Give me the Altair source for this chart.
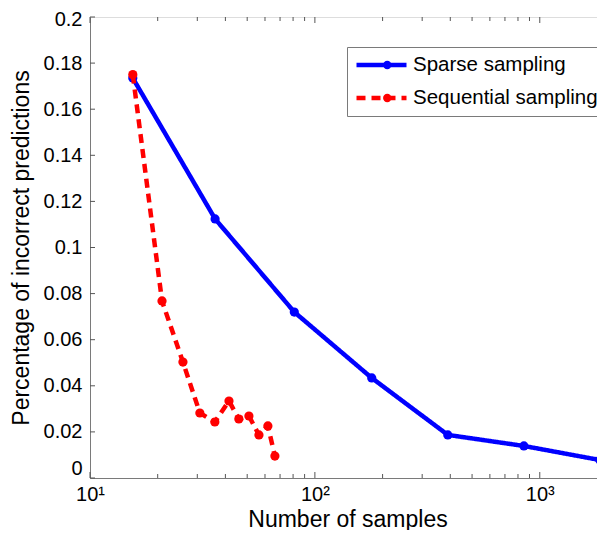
import altair as alt
import pandas as pd

# ---- data ----
sparse_x = [15.5, 36, 81, 179, 390, 850, 1850]
sparse_y = [0.1735, 0.1124, 0.072, 0.0434, 0.0187, 0.0139, 0.0078]
seq_x = [15.5, 20.9, 25.9, 30.8, 35.9, 41.5, 45.9, 50.9, 56.4, 61.8, 66.4]
seq_y = [0.175, 0.0768, 0.0503, 0.0282, 0.0243, 0.0334, 0.0256, 0.0269, 0.0187, 0.0226, 0.0095]
series_names = ["Sparse sampling", "Sequential sampling"]
series_colors = ["#0000ff", "#ff0000"]

x_major = [10, 100, 1000]
x_minor = [20, 30, 40, 50, 60, 70, 80, 90,
           200, 300, 400, 500, 600, 700, 800, 900]
y_ticks = [0, 0.02, 0.04, 0.06, 0.08, 0.1, 0.12, 0.14, 0.16, 0.18, 0.2]
x_domain = [10, 1950]
y_domain = [0, 0.2]

df = pd.concat([
    pd.DataFrame({"n": sparse_x, "err": sparse_y, "series": series_names[0]}),
    pd.DataFrame({"n": seq_x, "err": seq_y, "series": series_names[1]}),
])
# separate key for the dot overlay so its legend stays a distinct one
dot_names = [s + " (dot)" for s in series_names]
df["dot"] = df["series"] + " (dot)"
xmaj = pd.DataFrame({"t": x_major})
xmin = pd.DataFrame({"t": x_minor})
yt = pd.DataFrame({"t": y_ticks})

FONT = "Liberation Sans"
AX = "#7a7a7a"
W, H = 515, 461
LX, LY = 257, 30

xscale = alt.Scale(type="log", domain=x_domain, nice=False)
yscale = alt.Scale(domain=y_domain, nice=False, zero=False)

color = alt.Color(
    "series:N",
    scale=alt.Scale(domain=series_names, range=series_colors),
    legend=alt.Legend(
        title=None, orient="none", legendX=LX, legendY=LY,
        symbolType="stroke", symbolSize=2500, symbolStrokeWidth=4.5,
        clipHeight=22,
        labelFont=FONT, labelFontSize=20.5, labelColor="black", labelLimit=400,
        labelOffset=4, rowPadding=11, padding=7,
        strokeColor=AX, fillColor="white",
    ),
)
dash = alt.StrokeDash(
    "series:N",
    scale=alt.Scale(domain=series_names, range=[[1, 0], [9, 6]]),
    legend=None,
)

base = alt.Chart(df)
lines = base.mark_line(strokeWidth=4.5).encode(
    x=alt.X("n:Q", scale=xscale, axis=alt.Axis(
        title="Number of samples", values=x_major,
        labelExpr="datum.value == 10 ? '10¹' : datum.value == 100 ? '10²' : '10³'",
        labelFlush=False,
        ticks=False, labelPadding=6, labelFont=FONT, labelFontSize=20, labelColor="black",
        titleFont=FONT, titleFontSize=23, titleFontWeight="normal", titleColor="black",
        titlePadding=4, domainColor=AX, grid=False)),
    y=alt.Y("err:Q", scale=yscale, axis=alt.Axis(
        title="Percentage of incorrect predictions", values=y_ticks, format="~g",
        labelFlush=False,
        labelOffset={"condition": [
            {"test": "datum.value == 0", "value": -10},
            {"test": "datum.value >= 0.199", "value": 2},
        ], "value": 0},
        ticks=False, labelPadding=8, labelFont=FONT, labelFontSize=20, labelColor="black",
        titleFont=FONT, titleFontSize=23, titleFontWeight="normal", titleColor="black",
        titlePadding=10, domainColor=AX, grid=False)),
    color=color,
    strokeDash=dash,
    detail="series:N",
)
points = base.mark_circle(size=85, opacity=1).encode(
    x=alt.X("n:Q", scale=xscale),
    y=alt.Y("err:Q", scale=yscale),
    fill=alt.Fill(
        "dot:N",
        scale=alt.Scale(domain=dot_names, range=series_colors),
        legend=alt.Legend(
            title=None, orient="none", legendX=LX + 23, legendY=LY,
            symbolType="circle", symbolSize=70, symbolStrokeWidth=0,
            clipHeight=22, labelExpr="''",
            labelFont=FONT, labelFontSize=20.5, labelColor="black", labelLimit=400,
            labelOffset=4, rowPadding=11, padding=7,
            strokeColor="transparent", fillColor="transparent",
        ),
    ),
)

tick_col = "#555555"
xmaj_b = alt.Chart(xmaj).mark_rule(color=tick_col, strokeWidth=1).encode(
    x=alt.X("t:Q", scale=xscale), y=alt.value(H), y2=alt.value(H - 6))
xmin_b = alt.Chart(xmin).mark_rule(color=tick_col, strokeWidth=1).encode(
    x=alt.X("t:Q", scale=xscale), y=alt.value(H), y2=alt.value(H - 4))
xmaj_t = alt.Chart(xmaj).mark_rule(color=tick_col, strokeWidth=1).encode(
    x=alt.X("t:Q", scale=xscale), y=alt.value(0), y2=alt.value(6))
xmin_t = alt.Chart(xmin).mark_rule(color=tick_col, strokeWidth=1).encode(
    x=alt.X("t:Q", scale=xscale), y=alt.value(0), y2=alt.value(4))
yticks_layer = alt.Chart(yt).mark_rule(color=tick_col, strokeWidth=1).encode(
    y=alt.Y("t:Q", scale=yscale), x=alt.value(0), x2=alt.value(5))

blue_lines = lines.transform_filter(alt.datum.series == series_names[0])
red_lines = lines.transform_filter(alt.datum.series == series_names[1])
blue_pts = points.transform_filter(alt.datum.series == series_names[0])
red_pts = points.transform_filter(alt.datum.series == series_names[1])

chart = alt.layer(
    xmaj_b, xmin_b, xmaj_t, xmin_t, yticks_layer,
    blue_lines, blue_pts, red_lines, red_pts
).properties(
    width=W, height=H,
    autosize=alt.AutoSizeParams(type="none"),
    padding={"left": 82, "top": 9, "right": -8, "bottom": 52},
).configure_view(stroke=AX, strokeWidth=1).configure(background="white")

chart.save("out.html", embed_options={"renderer": "svg", "actions": False})
